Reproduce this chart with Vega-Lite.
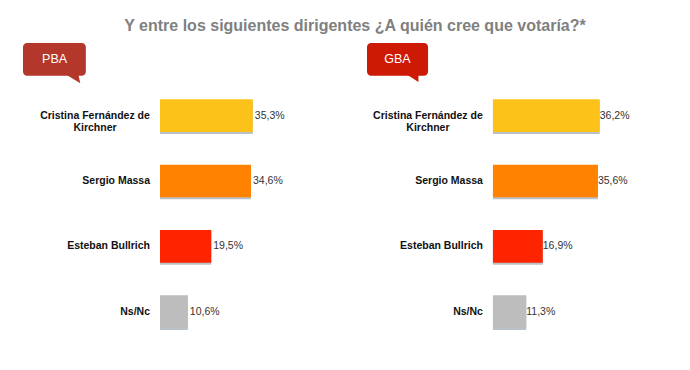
{
  "$schema": "https://vega.github.io/schema/vega-lite/v6.json",
  "padding": {"left": 23, "top": 18, "right": 0, "bottom": 0},
  "background": "white",
  "title": {
    "text": "Y entre los siguientes dirigentes ¿A quién cree que votaría?*",
    "anchor": "middle",
    "font": "Liberation Sans",
    "fontSize": 16,
    "fontWeight": "bold",
    "color": "#808080",
    "offset": 0
  },
  "spacing": 24,
  "config": {"view": {"stroke": null}},
  "hconcat": [
    {
      "width": 320,
      "height": 294,
      "data": {"values": [
        {"name": "Cristina Fernández de\nKirchner", "value": 35.3, "label": "35,3%", "color": "#FDC21A"},
        {"name": "Sergio Massa", "value": 34.6, "label": "34,6%", "color": "#FF8200"},
        {"name": "Esteban Bullrich", "value": 19.5, "label": "19,5%", "color": "#FF2400"},
        {"name": "Ns/Nc", "value": 10.6, "label": "10,6%", "color": "#BDBDBD"}
      ]},
      "encoding": {
        "y": {"field": "name", "type": "nominal", "axis": null,
          "scale": {"domain": ["badge", "Cristina Fernández de\nKirchner", "Sergio Massa", "Esteban Bullrich", "Ns/Nc"], "paddingInner": 0.5, "paddingOuter": 0}}
      },
      "layer": [
        {
          "mark": {"type": "bar", "color": "#8c97a3", "opacity": 0.6, "yOffset": 2},
          "encoding": {
            "x": {"field": "value", "type": "quantitative", "axis": null, "scale": {"domain": [-52.1, 69.6], "nice": false, "zero": false}},
            "x2": {"datum": 0}
          }
        },
        {
          "mark": {"type": "bar"},
          "encoding": {
            "x": {"field": "value", "type": "quantitative"},
            "x2": {"datum": 0},
            "color": {"field": "color", "type": "nominal", "scale": null, "legend": null}
          }
        },
        {
          "mark": {"type": "text", "align": "left", "baseline": "middle", "dx": 2, "font": "Liberation Sans", "fontSize": 10.5, "color": "#333333"},
          "encoding": {
            "x": {"field": "value", "type": "quantitative"},
            "text": {"field": "label"}
          }
        },
        {
          "transform": [{"filter": "indexof(datum.name, 'Kirchner') < 0"}],
          "mark": {"type": "text", "align": "right", "baseline": "middle", "dx": -10, "font": "Liberation Sans", "fontSize": 10.5, "fontWeight": "bold", "color": "#111111"},
          "encoding": {
            "x": {"datum": 0, "type": "quantitative"},
            "text": {"field": "name"}
          }
        },
        {
          "transform": [{"filter": "indexof(datum.name, 'Kirchner') >= 0"}],
          "mark": {"type": "text", "align": "center", "baseline": "middle", "dx": -65, "font": "Liberation Sans", "fontSize": 10.5, "fontWeight": "bold", "color": "#111111", "lineBreak": "\n", "lineHeight": 12},
          "encoding": {
            "x": {"datum": 0, "type": "quantitative"},
            "text": {"field": "name"}
          }
        },
        {
          "data": {"values": [{"badge": "PBA"}]},
          "layer": [
            {
              "mark": {"type": "bar", "color": "#B3372A", "cornerRadius": 4, "yOffset": 9},
              "encoding": {
                "y": {"datum": "badge", "type": "nominal"},
                "x": {"datum": -52.1, "type": "quantitative"},
                "x2": {"datum": -28.2}
              }
            },
            {
              "mark": {"type": "point", "filled": true, "color": "#B3372A", "opacity": 1, "size": 3844, "shape": "M0.3,0.45L0.76,0.45L0.83,0.77Z", "yOffset": 9},
              "encoding": {
                "y": {"datum": "badge", "type": "nominal"},
                "x": {"datum": -40.1, "type": "quantitative"}
              }
            },
            {
              "mark": {"type": "text", "align": "center", "baseline": "middle", "font": "Liberation Sans", "fontSize": 12.5, "color": "white", "yOffset": 9},
              "encoding": {
                "y": {"datum": "badge", "type": "nominal"},
                "x": {"datum": -40.1, "type": "quantitative"},
                "text": {"field": "badge"}
              }
            }
          ]
        }
      ]
    },
    {
      "width": 320,
      "height": 294,
      "data": {"values": [
        {"name": "Cristina Fernández de\nKirchner", "value": 36.2, "label": "36,2%", "color": "#FDC21A"},
        {"name": "Sergio Massa", "value": 35.6, "label": "35,6%", "color": "#FF8200"},
        {"name": "Esteban Bullrich", "value": 16.9, "label": "16,9%", "color": "#FF2400"},
        {"name": "Ns/Nc", "value": 11.3, "label": "11,3%", "color": "#BDBDBD"}
      ]},
      "encoding": {
        "y": {"field": "name", "type": "nominal", "axis": null,
          "scale": {"domain": ["badge", "Cristina Fernández de\nKirchner", "Sergio Massa", "Esteban Bullrich", "Ns/Nc"], "paddingInner": 0.5, "paddingOuter": 0}}
      },
      "layer": [
        {
          "mark": {"type": "bar", "color": "#8c97a3", "opacity": 0.6, "yOffset": 2},
          "encoding": {
            "x": {"field": "value", "type": "quantitative", "axis": null, "scale": {"domain": [-42.7, 65.8], "nice": false, "zero": false}},
            "x2": {"datum": 0}
          }
        },
        {
          "mark": {"type": "bar"},
          "encoding": {
            "x": {"field": "value", "type": "quantitative"},
            "x2": {"datum": 0},
            "color": {"field": "color", "type": "nominal", "scale": null, "legend": null}
          }
        },
        {
          "mark": {"type": "text", "align": "left", "baseline": "middle", "dx": 0, "font": "Liberation Sans", "fontSize": 10.5, "color": "#333333"},
          "encoding": {
            "x": {"field": "value", "type": "quantitative"},
            "text": {"field": "label"}
          }
        },
        {
          "transform": [{"filter": "indexof(datum.name, 'Kirchner') < 0"}],
          "mark": {"type": "text", "align": "right", "baseline": "middle", "dx": -10, "font": "Liberation Sans", "fontSize": 10.5, "fontWeight": "bold", "color": "#111111"},
          "encoding": {
            "x": {"datum": 0, "type": "quantitative"},
            "text": {"field": "name"}
          }
        },
        {
          "transform": [{"filter": "indexof(datum.name, 'Kirchner') >= 0"}],
          "mark": {"type": "text", "align": "center", "baseline": "middle", "dx": -65, "font": "Liberation Sans", "fontSize": 10.5, "fontWeight": "bold", "color": "#111111", "lineBreak": "\n", "lineHeight": 12},
          "encoding": {
            "x": {"datum": 0, "type": "quantitative"},
            "text": {"field": "name"}
          }
        },
        {
          "data": {"values": [{"badge": "GBA"}]},
          "layer": [
            {
              "mark": {"type": "bar", "color": "#CC1A05", "cornerRadius": 4, "yOffset": 9},
              "encoding": {
                "y": {"datum": "badge", "type": "nominal"},
                "x": {"datum": -42.7, "type": "quantitative"},
                "x2": {"datum": -22.0}
              }
            },
            {
              "mark": {"type": "point", "filled": true, "color": "#CC1A05", "opacity": 1, "size": 3844, "shape": "M0.24,0.45L0.68,0.45L0.68,0.73Z", "yOffset": 9},
              "encoding": {
                "y": {"datum": "badge", "type": "nominal"},
                "x": {"datum": -32.4, "type": "quantitative"}
              }
            },
            {
              "mark": {"type": "text", "align": "center", "baseline": "middle", "font": "Liberation Sans", "fontSize": 12.5, "color": "white", "yOffset": 9},
              "encoding": {
                "y": {"datum": "badge", "type": "nominal"},
                "x": {"datum": -32.4, "type": "quantitative"},
                "text": {"field": "badge"}
              }
            }
          ]
        }
      ]
    }
  ]
}
